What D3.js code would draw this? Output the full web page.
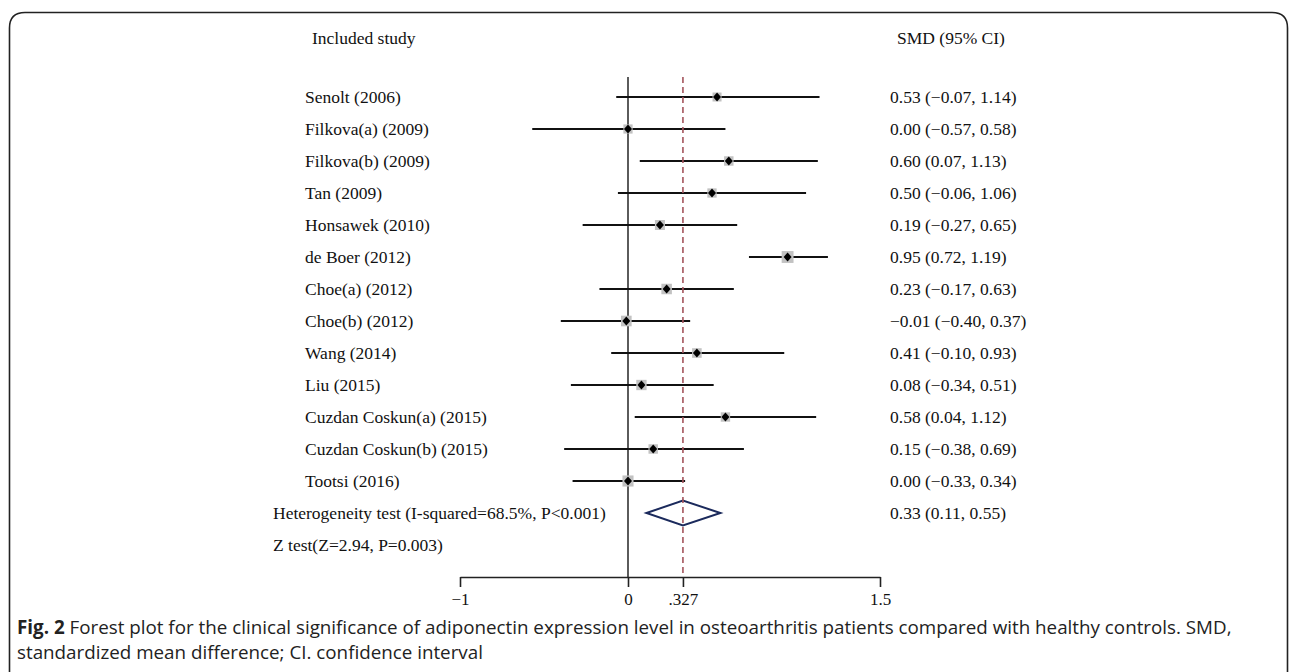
<!DOCTYPE html>
<html>
<head>
<meta charset="utf-8">
<script src="https://cdn.jsdelivr.net/npm/d3@7"></script>
<style>
  html, body { margin: 0; padding: 0; background: #fff; }
  svg { display: block; }
</style>
</head>
<body>
<svg id="chart" width="1290" height="672"></svg>
<script>
// ---- data ----
const studies = ["Senolt (2006)", "Filkova(a) (2009)", "Filkova(b) (2009)", "Tan (2009)", "Honsawek (2010)",
  "de Boer (2012)", "Choe(a) (2012)", "Choe(b) (2012)", "Wang (2014)", "Liu (2015)",
  "Cuzdan Coskun(a) (2015)", "Cuzdan Coskun(b) (2015)", "Tootsi (2016)"];
const smd   = [0.53, 0.00, 0.60, 0.50, 0.19, 0.95, 0.23, -0.01, 0.41, 0.08, 0.58, 0.15, 0.00];
const lower = [-0.07, -0.57, 0.07, -0.06, -0.27, 0.72, -0.17, -0.40, -0.10, -0.34, 0.04, -0.38, -0.33];
const upper = [1.14, 0.58, 1.13, 1.06, 0.65, 1.19, 0.63, 0.37, 0.93, 0.51, 1.12, 0.69, 0.34];
const weights = [6.6, 6.9, 7.3, 7.0, 8.2, 11.5, 9.0, 9.2, 7.5, 8.7, 7.2, 7.3, 10.0];
const ciText = ["0.53 (\u22120.07, 1.14)", "0.00 (\u22120.57, 0.58)", "0.60 (0.07, 1.13)", "0.50 (\u22120.06, 1.06)",
  "0.19 (\u22120.27, 0.65)", "0.95 (0.72, 1.19)", "0.23 (\u22120.17, 0.63)", "\u22120.01 (\u22120.40, 0.37)",
  "0.41 (\u22120.10, 0.93)", "0.08 (\u22120.34, 0.51)", "0.58 (0.04, 1.12)", "0.15 (\u22120.38, 0.69)", "0.00 (\u22120.33, 0.34)"];
const pooled = {est: 0.327, lo: 0.11, hi: 0.55};
const pooledText = "0.33 (0.11, 0.55)";
const hetText = "Heterogeneity test (I-squared=68.5%, P<0.001)";
const zText = "Z test(Z=2.94, P=0.003)";
const tickValues = [-1, 0, 0.327, 1.5];
const tickLabels = ["\u22121", "0", ".327", "1.5"];
const headerLeft = "Included study";
const headerRight = "SMD (95% CI)";

// ---- layout ----
const svg = d3.select("#chart");
const serif = "'Liberation Serif', 'Times New Roman', serif";
const x = d3.scaleLinear().domain([-1, 1.5]).range([460, 880]);
const rowKeys = studies.concat(["pooled"]);
const y = d3.scalePoint().domain(rowKeys).range([97, 513]);
const plotTop = 77, axisY = 577;

// border (rounded, open at bottom)
svg.append("path")
  .attr("d", "M9.5,672 L9.5,28 Q9.5,12.5 25,12.5 L1272,12.5 Q1287.5,12.5 1287.5,28 L1287.5,672")
  .attr("fill", "none").attr("stroke", "#222").attr("stroke-width", 1.6);

// headers
svg.append("text").attr("x", 312).attr("y", 38).attr("dy", "0.35em")
  .attr("font-family", serif).attr("font-size", 17.5).attr("fill", "#111").text(headerLeft);
svg.append("text").attr("x", 897).attr("y", 38).attr("dy", "0.35em")
  .attr("font-family", serif).attr("font-size", 17.5).attr("fill", "#111").text(headerRight);

// null line
svg.append("line").attr("x1", x(0)).attr("x2", x(0)).attr("y1", plotTop).attr("y2", axisY)
  .attr("stroke", "#333").attr("stroke-width", 1.6);

// study rows
const g = svg.append("g");
studies.forEach((s, i) => {
  const yy = y(s);
  g.append("line").attr("x1", x(lower[i])).attr("x2", x(upper[i])).attr("y1", yy).attr("y2", yy)
    .attr("stroke", "#111").attr("stroke-width", 2);
  const side = 3.5 * Math.sqrt(weights[i]);
  g.append("rect").attr("x", x(smd[i]) - side / 2).attr("y", yy - side / 2)
    .attr("width", side).attr("height", side).attr("fill", "#c2c2c2");
  const cx = x(smd[i]);
  g.append("path").attr("d", `M${cx - 4},${yy} L${cx},${yy - 4.5} L${cx + 4},${yy} L${cx},${yy + 4.5} Z`)
    .attr("fill", "#000");
  svg.append("text").attr("x", 305).attr("y", yy).attr("dy", "0.35em")
    .attr("font-family", serif).attr("font-size", 17.5).attr("fill", "#111").text(s);
  svg.append("text").attr("x", 890).attr("y", yy).attr("dy", "0.35em")
    .attr("font-family", serif).attr("font-size", 17.5).attr("fill", "#111").text(ciText[i]);
});

// pooled diamond
const py = y("pooled");
svg.append("path")
  .attr("d", `M${x(pooled.lo)},${py} L${x(pooled.est)},${py - 12.5} L${x(pooled.hi)},${py} L${x(pooled.est)},${py + 12.5} Z`)
  .attr("fill", "none").attr("stroke", "#1b2a5c").attr("stroke-width", 2);

// dashed pooled line
svg.append("line").attr("x1", x(pooled.est)).attr("x2", x(pooled.est)).attr("y1", plotTop).attr("y2", axisY)
  .attr("stroke", "#a4545c").attr("stroke-width", 1.6).attr("stroke-dasharray", "6,4");

svg.append("text").attr("x", 273).attr("y", py).attr("dy", "0.35em")
  .attr("font-family", serif).attr("font-size", 17.5).attr("fill", "#111").text(hetText);
svg.append("text").attr("x", 890).attr("y", py).attr("dy", "0.35em")
  .attr("font-family", serif).attr("font-size", 17.5).attr("fill", "#111").text(pooledText);
svg.append("text").attr("x", 273).attr("y", 545).attr("dy", "0.35em")
  .attr("font-family", serif).attr("font-size", 17.5).attr("fill", "#111").text(zText);

// axis
const axis = d3.axisBottom(x).tickValues(tickValues)
  .tickFormat((d, i) => tickLabels[i]).tickSize(10).tickSizeOuter(0).tickPadding(6);
const ag = svg.append("g").attr("transform", `translate(0,${axisY})`).call(axis);
ag.select(".domain").attr("stroke", "#222").attr("stroke-width", 1.6);
ag.selectAll(".tick line").attr("stroke", "#222").attr("stroke-width", 1.6);
ag.selectAll(".tick text").attr("font-family", serif).attr("font-size", 17).attr("fill", "#111");

// caption
const sans = "'Open Sans', 'Noto Sans', sans-serif";
const cap1 = svg.append("text").attr("x", 17).attr("y", 634)
  .attr("font-family", sans).attr("font-size", 18.8).attr("fill", "#222");
cap1.append("tspan").attr("font-weight", "bold").text("Fig. 2");
cap1.append("tspan").text(" Forest plot for the clinical significance of adiponectin expression level in osteoarthritis patients compared with healthy controls. SMD,");
svg.append("text").attr("x", 17).attr("y", 659)
  .attr("font-family", sans).attr("font-size", 18.8).attr("fill", "#222")
  .text("standardized mean difference; CI. confidence interval");
</script>
</body>
</html>
